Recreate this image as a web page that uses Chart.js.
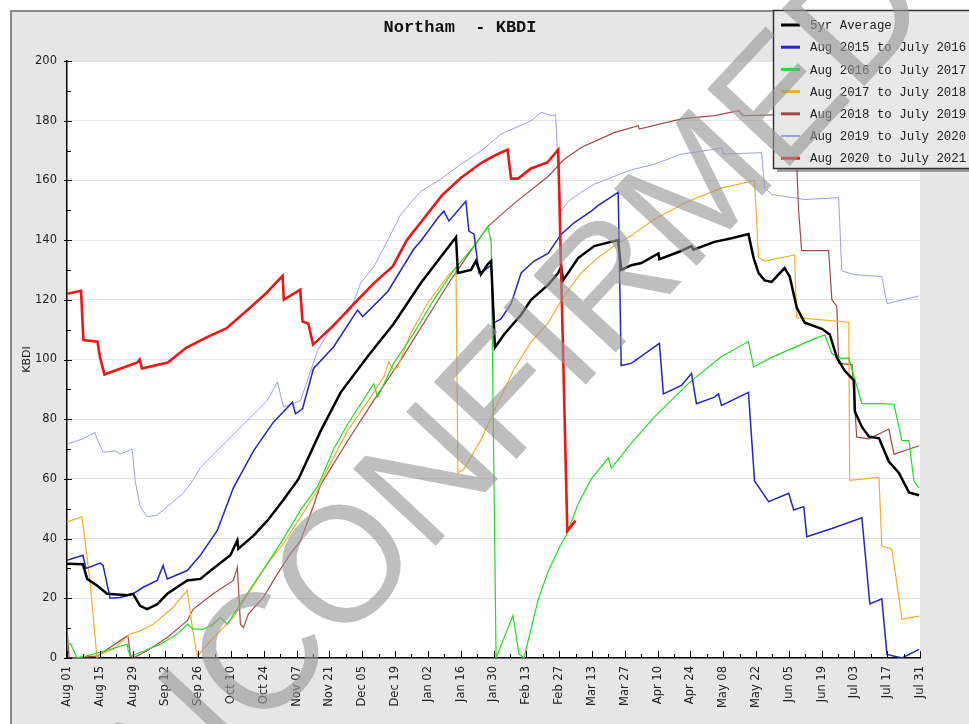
<!DOCTYPE html>
<html>
<head>
<meta charset="utf-8">
<script src="https://cdn.jsdelivr.net/npm/chart.js@4.4.1/dist/chart.umd.min.js"></script>
<style>
html,body{margin:0;padding:0;background:#ffffff;}
#wrap{width:969px;height:724px;position:relative;}
</style>
</head>
<body>
<div id="wrap"><canvas id="c" width="969" height="724"></canvas></div>
<script>
// ---------- data (x = day since Aug 01, y = KBDI) ----------
const chartTitle = 'Northam  - KBDI';
const yAxisTitle = 'KBDI';
const watermarkText = 'UNCONFIRMED';
const xTickLabels = ['Aug 01','Aug 15','Aug 29','Sep 12','Sep 26','Oct 10','Oct 24','Nov 07','Nov 21','Dec 05','Dec 19','Jan 02','Jan 16','Jan 30','Feb 13','Feb 27','Mar 13','Mar 27','Apr 10','Apr 24','May 08','May 22','Jun 05','Jun 19','Jul 03','Jul 17','Jul 31'];
const seriesNames = ['5yr Average','Aug 2015 to July 2016','Aug 2016 to July 2017','Aug 2017 to July 2018','Aug 2018 to July 2019','Aug 2019 to July 2020','Aug 2020 to July 2021'];

const avg5yr = [[0,31.6],[6.8,31.4],[8.6,26.5],[12.8,24.3],[17.1,21.5],[25.7,21],[28.2,21.5],[31.2,17.5],[34.2,16.4],[38.5,18],[42.8,21.5],[51.3,26],[56.9,26.5],[62.4,30],[69.7,34.4],[72.7,39.4],[73.1,36.6],[79.6,41],[85.5,46],[92.4,53],[98.8,60],[108.2,76],[116.8,89],[128.3,101],[139.4,112],[151,125.6],[160.8,135.7],[166,141],[166.8,129],[172.4,130],[174.5,133],[176.6,128.5],[179.6,132],[181,133],[182.6,104],[186.5,108.4],[190.8,112.3],[193.8,115],[198,120],[205.3,125],[209.6,129],[210.9,131],[211.7,126.5],[218.1,134],[225,138],[235.2,140],[236.5,130],[240.8,131.6],[245.1,132.3],[252.4,135.5],[252.8,133.6],[260.9,136],[266.5,138],[267.3,136.8],[276.3,139.4],[283.6,140.6],[290.8,142],[293,134],[295.1,129],[297.7,126.5],[300.7,126],[306.2,130.6],[308.4,127.8],[311.4,117.4],[314.8,112.3],[322.1,110.3],[325.5,108.4],[328.5,100.7],[331.9,96.2],[335.8,93],[336.2,82.6],[339.2,77.4],[342.2,74.2],[346.5,73.6],[350.7,65.8],[355,62],[359.3,55.5],[363.6,54.5]];

const y2015 = [[0,32.7],[6.8,34.4],[8.1,30],[14.1,31.8],[15.4,31],[18.4,20],[22.7,20.3],[28.2,21.5],[32.5,23.7],[38.5,26],[41,31],[42.8,26.5],[51.3,29.3],[56.9,34.4],[64.2,42.8],[71,57],[79.6,69.4],[88.1,79],[96.2,85.7],[97.5,81.8],[100.5,83.5],[105.2,97],[113.8,104.3],[124,116.6],[126.2,114.4],[136.9,122.8],[148,137],[151,139.7],[158.3,147.5],[160.8,149.7],[163,146.4],[170.2,153],[171.5,143],[173.7,142],[175.8,129],[176.6,129],[181,131.6],[182.2,112.3],[185.2,113.6],[189.5,118.7],[193.8,129],[199.3,133],[205.3,135.5],[210.9,142],[216.4,145.8],[223.7,149.7],[226.7,151.6],[235.2,156],[236.5,98],[240.8,98.7],[252.8,105.4],[254.5,88.5],[262.2,91.3],[266.5,95.3],[268.6,85.2],[276.3,87.4],[278,88.5],[279.3,84.6],[290.8,89],[293.4,59.3],[299.4,52.4],[308,55.2],[310.1,49.6],[314.4,50.7],[315.7,40.6],[326.4,43.4],[339.2,47],[342.6,18.1],[347.7,19.8],[349.9,1.2],[356.3,0],[363.6,2.9]];

const y2016 = [[0,4.6],[1.5,4.8],[4.3,0],[11.1,1.2],[25.7,4.6],[26,2.9],[27,0.5],[39.8,4.6],[47,8],[51.3,11.3],[53.9,9.7],[58.2,9.7],[62.4,11.3],[65.4,13.6],[68.4,11.3],[74,18.1],[79.6,24.8],[85.5,31.6],[92.4,40],[99.7,49.6],[106.9,57.4],[110,63],[113.8,70],[119.8,78.4],[130.9,91.9],[132.6,87.4],[139.4,98.7],[148,108.8],[156.5,120],[165.1,130],[173.7,138],[179.6,144.5],[181,139.4],[183.1,0],[190.3,14.2],[192.9,1.3],[195,0],[201,19.4],[205.3,29],[210.9,38.3],[213,41],[218.1,51.6],[223.7,60],[231,67],[232.3,63.6],[240.8,72],[250.6,80.7],[265.2,92],[279.3,101],[290.8,106],[293,97.5],[300.7,100.7],[319,107],[323.4,108.2],[326.4,102],[330.6,100.3],[333.6,100.5],[339.2,85.2],[347.7,85.2],[352.9,85],[356.3,72.8],[359.3,72.8],[361.4,59.3],[363.6,57]];

const y2017 = [[0,45.6],[6.4,47.3],[9.8,26],[12.8,0],[14.1,1.2],[19.7,2.9],[27,8],[31.2,9.1],[36.8,11.3],[45.3,17],[51.3,22.6],[53.5,10.2],[55.6,0.5],[59.9,4.6],[71,13.6],[78.3,22.6],[85.5,31.6],[92.4,38.3],[99.7,47.3],[106.9,56],[110,61.6],[119.8,76.2],[129.6,87.4],[135.2,94.2],[137.3,99.2],[139.4,96.4],[141.1,97.5],[146.7,108.8],[154,119],[162.5,128],[166,130.7],[166.8,62],[169.4,63.3],[176.6,73],[182.2,82.6],[190.8,96.8],[198,105.8],[205.3,112.3],[212.1,121.3],[219.4,129],[226.7,134.2],[233.5,138],[240.8,141.5],[250.6,147],[265.2,153],[279.3,157.4],[293.4,160],[295.1,134.2],[297.7,133],[310.5,135],[311.4,114],[333.6,112.5],[334,59.5],[346.5,60.5],[347.7,37.5],[352,36.5],[356.3,13],[363.6,14]];

const y2018 = [[0,10],[0.9,0],[12.8,0.6],[25.7,7.4],[26.1,7],[27,1.2],[28.2,0],[34.2,2.4],[42.8,6.9],[51.3,12.5],[53.9,16.4],[62.4,21.5],[71,26],[72.7,30.4],[74,11.3],[75.3,10.2],[77.4,14.7],[83.8,20.3],[89.8,28.2],[95.4,35],[99.7,39.4],[105.2,51],[108.2,58],[119.8,72.8],[130.9,86.3],[142.4,99.8],[154,114.4],[163.8,126.7],[173.7,138],[179.6,144.5],[190.8,152.3],[205.3,161.3],[212.1,167],[219.4,171],[233.5,176],[243.8,178.3],[244.2,177.2],[262.2,180.6],[276.3,181.7],[286.6,183.4],[288.7,181.7],[297.7,181.9],[310.5,182.2],[312.2,150],[313.5,136.5],[325,136.5],[326.4,120],[328.5,117.8],[329.3,98.7],[335,98.3],[337,74],[342.2,73.4],[350.7,76.7],[352.9,68.3],[363.6,71.1]];

const y2019 = [[0,71.7],[6.8,73.4],[12,75.6],[12.5,74],[15.4,68.9],[20.5,69.4],[22.7,68.3],[27.8,70],[29.1,59.3],[31.2,50.7],[34.2,47.3],[38.5,47.9],[42.8,50.7],[49.6,55.2],[53.9,59.7],[56.9,63.8],[68.4,72.8],[77,79.6],[85.5,86.3],[89.8,92.5],[92.4,84],[99.7,86.3],[106.9,103],[113.8,112],[121,116.6],[125.3,125.6],[130.9,131],[136.9,140],[142.4,148.6],[151,156.4],[158.3,159.8],[168,165.4],[176.6,169.8],[185.2,175.5],[198,180],[202.3,182.8],[206.6,181.7],[208.5,182],[209.6,165],[210.9,149.7],[213.9,153],[219.4,156],[225,158.7],[231,160.6],[240.8,163.5],[250.6,165.4],[262.2,168.8],[276.3,170.4],[279.3,171],[280.1,168.8],[296.4,169.3],[297.7,157.5],[300.7,155.3],[314.8,153.6],[329.3,154.2],[330.6,129.7],[336.2,128.4],[347.7,127.8],[349.9,118.7],[363.6,121.3]];

const y2020 = [[0,122],[6,123],[7,106.5],[13,106],[14,101],[16,95],[30,99],[31,100],[32,97],[43,99],[51,104],[60,107.6],[68,110.4],[77,116.6],[85,122.2],[92,128],[92.5,120],[99.5,123.4],[100.5,112.7],[103,112],[105,105],[114,111.6],[122,118.3],[131,125.6],[139,131.2],[145,140],[151,146],[160,155],[168,160.8],[177,166],[183,168.5],[188,170.3],[189.5,160.6],[192.5,160.6],[198,164],[205,166],[209.6,170.3],[211,125],[213.5,42.6],[217,46]];

const seriesColors = ['#000000','#2424c8','#22dd22','#f7ad2a','#a54848','#9d9df2','#ee1515'];
const seriesWidths = [2.5,1.5,1.2,1.2,1.2,1,2.6];
const legendWidths = [3,3,3,3,3,2,3];

// ---------- plugins ----------
const bgPlugin = {
  id: 'bg',
  beforeDraw(chart) {
    const ctx = chart.ctx, a = chart.chartArea;
    ctx.save();
    ctx.fillStyle = '#ffffff';
    ctx.fillRect(0, 0, chart.width, chart.height);
    ctx.fillStyle = '#e6e6e6';
    ctx.fillRect(10, 10, chart.width - 10, chart.height - 10);
    ctx.strokeStyle = '#8a8a8a';
    ctx.lineWidth = 2;
    ctx.beginPath();
    ctx.moveTo(11, chart.height); ctx.lineTo(11, 11); ctx.lineTo(chart.width, 11);
    ctx.stroke();
    ctx.fillStyle = '#ffffff';
    ctx.fillRect(a.left, a.top, a.right - a.left, a.bottom - a.top);
    ctx.restore();
  }
};

const ticksPlugin = {
  id: 'minorTicks',
  afterDatasetsDraw(chart) {
    const ctx = chart.ctx, xs = chart.scales.x, ys = chart.scales.y;
    ctx.save();
    ctx.strokeStyle = '#000';
    ctx.lineWidth = 1;
    ctx.beginPath();
    for (let d = 0; d <= 364; d += 7) {
      const px = Math.round(xs.getPixelForValue(d)) + 0.5;
      const len = (d % 14 === 0) ? 7 : 4;
      ctx.moveTo(px, ys.bottom); ctx.lineTo(px, ys.bottom - len);
    }
    for (let v = 0; v <= 200; v += 10) {
      const py = Math.round(ys.getPixelForValue(v)) + 0.5;
      if (v % 20 === 0) { ctx.moveTo(xs.left - 3, py); ctx.lineTo(xs.left + 5, py); }
      else { ctx.moveTo(xs.left, py); ctx.lineTo(xs.left + 4, py); }
    }
    ctx.stroke();
    ctx.restore();

    // legend box
    const ds = chart.data.datasets;
    const lx = 773, ly = 10, lw = 205, lh = 158;
    ctx.save();
    ctx.fillStyle = 'rgba(90,90,90,0.55)';
    ctx.fillRect(lx + 4, ly + 4, lw, lh);
    ctx.fillStyle = '#e8e8e8';
    ctx.fillRect(lx, ly, lw, lh);
    ctx.strokeStyle = '#333';
    ctx.lineWidth = 1.5;
    ctx.strokeRect(lx + 0.5, ly + 0.5, lw, lh);
    ctx.font = '12.4px "Liberation Mono", "DejaVu Sans Mono", monospace';
    ctx.textBaseline = 'middle';
    ctx.textAlign = 'left';
    ds.forEach((d, i) => {
      const y = 25 + i * 22.2;
      ctx.strokeStyle = d.borderColor;
      ctx.lineWidth = legendWidths[i];
      ctx.beginPath(); ctx.moveTo(781, y); ctx.lineTo(800, y); ctx.stroke();
      ctx.fillStyle = '#222';
      ctx.fillText(d.label, 810, y + 1);
    });
    ctx.restore();
  },
  afterDraw(chart) {
    const ctx = chart.ctx;
    ctx.save();
    const fs = 164;
    ctx.font = fs + 'px "Liberation Sans", Arial, sans-serif';
    const pre = ctx.measureText('UNCO').width - ctx.measureText('O').width / 2;
    ctx.translate(340, 562);
    ctx.rotate(-47 * Math.PI / 180);
    ctx.fillStyle = 'rgba(150,150,150,0.62)';
    ctx.textBaseline = 'alphabetic';
    ctx.textAlign = 'left';
    ctx.fillText(watermarkText, -pre, 0.716 * fs / 2);
    ctx.restore();
  }
};

// ---------- chart ----------
const allSeries = [avg5yr, y2015, y2016, y2017, y2018, y2019, y2020];
const datasets = allSeries.map((s, i) => ({
  label: seriesNames[i],
  data: s.map(p => ({x: p[0], y: p[1]})),
  borderColor: seriesColors[i],
  backgroundColor: seriesColors[i],
  borderWidth: seriesWidths[i],
  pointRadius: 0,
  tension: 0,
  fill: false,
  order: i === 6 ? 0 : (i === 0 ? 0.5 : 1)
}));

Chart.defaults.font.family = '"DejaVu Sans", sans-serif';
Chart.defaults.color = '#222';

new Chart(document.getElementById('c'), {
  type: 'line',
  data: { datasets },
  options: {
    responsive: false,
    animation: false,
    devicePixelRatio: 1,
    events: [],
    layout: { padding: { left: 0, right: 49, top: 0, bottom: 0 } },
    plugins: {
      legend: { display: false },
      tooltip: { enabled: false },
      title: {
        display: true,
        text: chartTitle,
        font: { family: '"Liberation Mono", "DejaVu Sans Mono", monospace', size: 17, weight: 'bold' },
        color: '#111',
        padding: { top: 18, bottom: 22.6 }
      }
    },
    scales: {
      x: {
        type: 'linear',
        min: 0, max: 364,
        grid: { display: false, drawTicks: false },
        border: { display: true, color: '#000', width: 1.5 },
        ticks: {
          stepSize: 14,
          autoSkip: false,
          maxRotation: 90, minRotation: 90,
          padding: 8,
          font: { size: 11.5 },
          color: '#222',
          callback: (v) => xTickLabels[Math.round(v / 14)]
        },
        afterFit: (s) => { s.height = 66; }
      },
      y: {
        min: 0, max: 200,
        grid: { color: '#e2e2e2', lineWidth: 1, drawTicks: false },
        border: { display: true, color: '#000', width: 1.5 },
        ticks: { stepSize: 20, padding: 10, font: { size: 11.5 }, color: '#222' },
        title: { display: true, text: yAxisTitle, font: { size: 11 }, color: '#222', padding: { top: 21, bottom: 0 } },
        afterFit: (s) => { s.width = 67; }
      }
    }
  },
  plugins: [bgPlugin, ticksPlugin]
});
</script>
</body>
</html>
